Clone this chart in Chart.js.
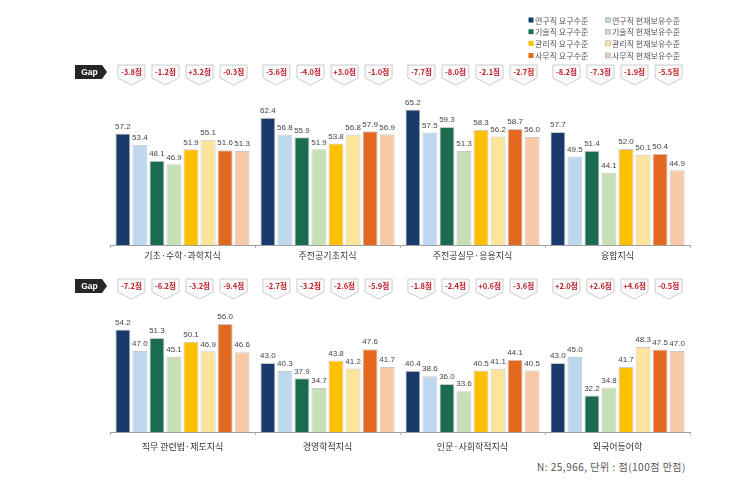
<!DOCTYPE html>
<html><head><meta charset="utf-8">
<script src="https://cdn.jsdelivr.net/npm/chart.js@4.4.0/dist/chart.umd.min.js"></script>
<style>
html,body{margin:0;padding:0;background:#fff;width:747px;height:482px;overflow:hidden;font-family:"Noto Sans CJK KR",sans-serif;}
#c1{position:absolute;left:0;top:0;}
#c2{position:absolute;left:0;top:262px;}
#note{position:absolute;left:537px;top:459px;font-size:10px;letter-spacing:0.5px;color:#555;white-space:nowrap;font-family:"Noto Sans CJK KR",sans-serif;}
</style></head><body>
<canvas id="c1" width="747" height="262"></canvas>
<canvas id="c2" width="747" height="195"></canvas>
<div id="note">N: 25,966, 단위 : 점(100점 만점)</div>
<script>
// ---- data ----
const seriesNames = ['연구직 요구수준','연구직 현재보유수준','기술직 요구수준','기술직 현재보유수준','관리직 요구수준','관리직 현재보유수준','사무직 요구수준','사무직 현재보유수준'];
const topCategories = ['기초·수학·과학지식','주전공기초지식','주전공실무·응용지식','융합지식'];
const bottomCategories = ['직무 관련법·제도지식','경영학적지식','인문·사회학적지식','외국어등어학'];
// values per series (one per category)
const topResearchReq  = [57.2, 62.4, 65.2, 57.7];
const topResearchCur  = [53.4, 56.8, 57.5, 49.5];
const topTechReq      = [48.1, 55.9, 59.3, 51.4];
const topTechCur      = [46.9, 51.9, 51.3, 44.1];
const topMgmtReq      = [51.9, 53.8, 58.3, 52.0];
const topMgmtCur      = [55.1, 56.8, 56.2, 50.1];
const topOfficeReq    = [51.6, 57.9, 58.7, 50.4];
const topOfficeCur    = [51.3, 56.9, 56.0, 44.9];
const botResearchReq  = [54.2, 43.0, 40.4, 43.0];
const botResearchCur  = [47.0, 40.3, 38.6, 45.0];
const botTechReq      = [51.3, 37.9, 36.0, 32.2];
const botTechCur      = [45.1, 34.7, 33.6, 34.8];
const botMgmtReq      = [50.1, 43.8, 40.5, 41.7];
const botMgmtCur      = [46.9, 41.2, 41.1, 48.3];
const botOfficeReq    = [56.0, 47.6, 44.1, 47.5];
const botOfficeCur    = [46.6, 41.7, 40.5, 47.0];
// gap labels as printed (per category: research, tech, management, office)
const topGaps = [['-3.8점','-1.2점','+3.2점','-0.3점'],['-5.6점','-4.0점','+3.0점','-1.0점'],['-7.7점','-8.0점','-2.1점','-2.7점'],['-8.2점','-7.3점','-1.9점','-5.5점']];
const botGaps = [['-7.2점','-6.2점','-3.2점','-9.4점'],['-2.7점','-3.2점','-2.6점','-5.9점'],['-1.8점','-2.4점','+0.6점','-3.6점'],['+2.0점','+2.6점','+4.6점','-0.5점']];
const yMin = 20, yMax = 70;

const colors = ['#1b3a6c','#bdd7ee','#1b6b51','#c6dfb4','#ffc000','#fde49b','#e2691f','#f8c9a7'];
const FONT = '"Noto Sans CJK KR", "Noto Sans", sans-serif';

function makeDatasets(arrs){
  return arrs.map((a,k)=>({label:seriesNames[k], data:a, backgroundColor:colors[k],
    borderColor:'rgba(150,150,150,0.5)', borderWidth:1, barPercentage:0.88, categoryPercentage:0.94}));
}

const labelPlugin = {
  id:'vals',
  afterDatasetsDraw(chart){
    const ctx = chart.ctx;
    ctx.save();
    ctx.font = '8px "Liberation Sans", Arial, sans-serif';
    ctx.fillStyle = '#444';
    ctx.textAlign = 'center';
    ctx.textBaseline = 'bottom';
    chart.data.datasets.forEach((ds,d)=>{
      chart.getDatasetMeta(d).data.forEach((bar,i)=>{
        ctx.fillText(ds.data[i].toFixed(1), bar.x, bar.y - 3);
      });
    });
    ctx.restore();
  }
};

function gapPlugin(yTop, gaps){
  return {
    id:'gaps',
    afterDraw(chart){
      const ctx = chart.ctx;
      ctx.save();
      // Gap tag
      const tx0 = 75, tx1 = 102, th = 14;
      ctx.fillStyle = '#262626';
      ctx.beginPath();
      ctx.moveTo(tx0, yTop); ctx.lineTo(tx1, yTop); ctx.lineTo(tx1+5, yTop+th/2);
      ctx.lineTo(tx1, yTop+th); ctx.lineTo(tx0, yTop+th); ctx.closePath(); ctx.fill();
      ctx.fillStyle = '#fff';
      ctx.font = 'bold 8.5px "Liberation Sans", Arial, sans-serif';
      ctx.textAlign = 'center'; ctx.textBaseline = 'middle';
      ctx.fillText('Gap', (tx0+tx1)/2 + 1, yTop + th/2 + 0.5);
      // gap boxes
      const n = chart.data.labels.length;
      for (let i=0;i<n;i++){
        for (let p=0;p<4;p++){
          const b1 = chart.getDatasetMeta(2*p).data[i];
          const b2 = chart.getDatasetMeta(2*p+1).data[i];
          const cx = (b1.x + b2.x)/2;
          const txt = gaps[i][p];
          const w = 27, h = 13, tip = 7;
          const x0 = cx - w/2, x1 = cx + w/2;
          ctx.beginPath();
          ctx.moveTo(x0, yTop); ctx.lineTo(x1, yTop); ctx.lineTo(x1, yTop+h);
          ctx.lineTo(cx, yTop+h+tip); ctx.lineTo(x0, yTop+h); ctx.closePath();
          ctx.fillStyle = '#fbfbfb'; ctx.fill();
          ctx.strokeStyle = '#cccccc'; ctx.lineWidth = 1; ctx.stroke();
          ctx.fillStyle = '#c0202a';
          ctx.font = 'bold 7.5px ' + FONT;
          ctx.textAlign = 'center'; ctx.textBaseline = 'middle';
          ctx.fillText(txt, cx, yTop + h/2 + 1);
        }
      }
      ctx.restore();
    }
  };
}

const legendPlugin = {
  id:'legendDraw',
  afterDraw(chart){
    const ctx = chart.ctx;
    ctx.save();
    const rows = [20, 31.7, 43.3, 55.5];
    const cols = [531, 608];
    ctx.font = '8px ' + FONT;
    ctx.textBaseline = 'middle'; ctx.textAlign = 'left';
    for (let k=0;k<8;k++){
      const r = Math.floor(k/2), c = k%2;
      const x = cols[c], y = rows[r];
      ctx.fillStyle = colors[k];
      ctx.fillRect(x-2.5, y-2.5, 5, 5);
      if (c===1){ ctx.strokeStyle='#aaa'; ctx.lineWidth=0.6; ctx.strokeRect(x-2.5,y-2.5,5,5); }
      ctx.fillStyle = '#555';
      ctx.fillText(seriesNames[k], x+4, y+0.5);
    }
    ctx.restore();
  }
};

function makeChart(id, cats, arrs, gaps, padTop, axisH, tickPad, gapY, withLegend){
  const plugins = [labelPlugin, gapPlugin(gapY, gaps)];
  if (withLegend) plugins.push(legendPlugin);
  return new Chart(document.getElementById(id), {
    type:'bar',
    data:{labels:cats, datasets:makeDatasets(arrs)},
    options:{
      responsive:false, animation:false, devicePixelRatio:1,
      layout:{padding:{left:110, right:57, top:padTop, bottom:0}},
      plugins:{legend:{display:false}, tooltip:{enabled:false}},
      scales:{
        y:{display:false, min:yMin, max:yMax},
        x:{
          grid:{drawOnChartArea:false, drawTicks:true, tickLength:3, color:'#b0b0b0'},
          border:{display:true, color:'#a0a0a0'},
          ticks:{font:{size:9, family:FONT}, color:'#333', padding:tickPad},
          afterFit(s){ s.height = axisH; }
        }
      }
    },
    plugins
  });
}

makeChart('c1', topCategories,
  [topResearchReq, topResearchCur, topTechReq, topTechCur, topMgmtReq, topMgmtCur, topOfficeReq, topOfficeCur],
  topGaps, 95, 17, 2, 65, true);
makeChart('c2', bottomCategories,
  [botResearchReq, botResearchCur, botTechReq, botTechCur, botMgmtReq, botMgmtCur, botOfficeReq, botOfficeCur],
  botGaps, 20, 25, 6, 17, false);
</script>
</body></html>
